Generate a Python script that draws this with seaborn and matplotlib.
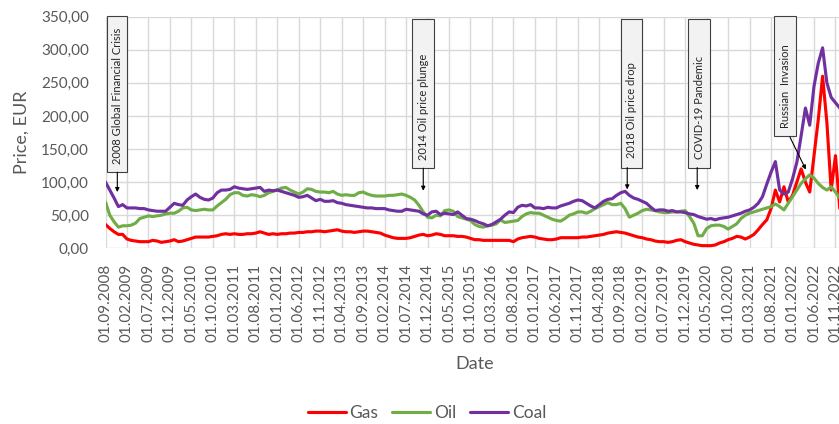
import numpy as np
import pandas as pd
import matplotlib
matplotlib.use("Agg")
import matplotlib.pyplot as plt
from matplotlib.patches import Rectangle
import seaborn as sns

# ---------------- data (monthly, starting 01.09.2008) ----------------
gas = [36, 30, 25, 21, 21, 14, 12, 11, 10, 10,
       10, 12, 11, 9, 10, 11, 13, 10, 11, 13,
       15, 17, 17, 17, 17, 18, 19, 21, 22, 21,
       22, 21, 21, 22, 22, 23, 25, 23, 21, 22,
       21, 22, 22, 23, 23, 24, 24, 25, 25, 26,
       26, 25, 26, 27, 28, 26, 25, 25, 24, 25,
       26, 26, 25, 24, 23, 20, 18, 16, 15, 15,
       15, 16, 18, 20, 21, 19, 20, 22, 21, 19,
       19, 19, 18, 18, 17, 15, 13, 13, 12, 12,
       12, 12, 12, 12, 12, 10, 14, 16, 17, 18,
       17, 15, 14, 13, 13, 14, 16, 16, 16, 16,
       16, 17, 17, 18, 19, 20, 21, 23, 24, 25,
       24, 23, 21, 19, 17, 16, 14, 13, 11, 10,
       10, 9, 10, 12, 13, 10, 8, 6, 5, 4,
       4, 4, 5, 8, 10, 13, 15, 18, 17, 14,
       17, 21, 28, 36, 43, 60, 88, 70, 93, 70,
       80, 100, 120, 100, 85, 140, 195, 260, 190, 88,
       140, 60, 60]

oil = [70, 50, 40, 32, 34, 34, 35, 38, 45, 47,
       49, 48, 49, 50, 52, 53, 53, 56, 61, 62,
       58, 57, 58, 59, 58, 58, 64, 69, 74, 81,
       84, 84, 80, 79, 81, 80, 78, 80, 84, 86,
       88, 91, 92, 88, 85, 82, 85, 90, 89, 86,
       85, 85, 84, 86, 82, 80, 81, 80, 80, 84,
       85, 82, 80, 79, 79, 79, 80, 80, 81, 82,
       80, 77, 73, 65, 55, 47, 46, 50, 49, 57,
       58, 56, 48, 46, 44, 42, 36, 33, 32, 34,
       35, 37, 43, 39, 40, 41, 42, 48, 52, 54,
       53, 53, 50, 47, 44, 42, 41, 45, 50, 52,
       55, 55, 53, 56, 60, 63, 66, 69, 66, 66,
       68, 60, 47, 50, 53, 57, 59, 58, 57, 55,
       54, 54, 55, 55, 56, 57, 48, 38, 19, 19,
       30, 34, 35, 35, 33, 29, 33, 37, 45, 50,
       53, 55, 57, 59, 61, 63, 67, 63, 58, 68,
       78, 88, 98, 105, 111, 106, 98, 92, 88, 93,
       85, 76, 73]

coal = [100, 88, 76, 63, 66, 61, 61, 61, 60, 60,
        58, 57, 56, 56, 56, 62, 68, 66, 65, 73,
        78, 82, 77, 74, 73, 76, 84, 88, 88, 89,
        93, 91, 90, 89, 90, 91, 92, 86, 88, 87,
        88, 86, 84, 82, 80, 77, 78, 80, 76, 72,
        74, 71, 71, 72, 69, 68, 66, 65, 64, 63,
        62, 61, 61, 60, 60, 60, 58, 57, 56, 56,
        59, 58, 57, 56, 52, 50, 55, 56, 51, 53,
        52, 51, 55, 50, 45, 44, 42, 39, 37, 34,
        36, 40, 44, 50, 55, 54, 62, 65, 64, 66,
        61, 61, 60, 62, 61, 61, 64, 66, 68, 71,
        73, 72, 68, 64, 61, 66, 71, 74, 75, 80,
        84, 86, 80, 76, 74, 71, 68, 62, 57, 58,
        58, 56, 57, 55, 55, 54, 52, 51, 48, 46,
        44, 45, 43, 45, 46, 47, 49, 51, 53, 56,
        58, 62, 68, 78, 97, 115, 131, 88, 82, 85,
        105, 130, 170, 212, 186, 245, 280, 303, 250, 228,
        220, 212, 195]

tick_labels = ["01.09.2008", "01.02.2009", "01.07.2009", "01.12.2009", "01.05.2010",
               "01.10.2010", "01.03.2011", "01.08.2011", "01.01.2012", "01.06.2012",
               "01.11.2012", "01.04.2013", "01.09.2013", "01.02.2014", "01.07.2014",
               "01.12.2014", "01.05.2015", "01.10.2015", "01.03.2016", "01.08.2016",
               "01.01.2017", "01.06.2017", "01.11.2017", "01.04.2018", "01.09.2018",
               "01.02.2019", "01.07.2019", "01.12.2019", "01.05.2020", "01.10.2020",
               "01.03.2021", "01.08.2021", "01.01.2022", "01.06.2022", "01.11.2022"]

y_ticks = [0, 50, 100, 150, 200, 250, 300, 350]

event_labels = ["2008 Global Financial Crisis", "2014 Oil price plunge",
                "2018 Oil price drop", "COVID-19 Pandemic", "Russian  Invasion"]

# layout of event callouts (month-index / value coordinates)
# box_left, box_right, box_bottom, box_top, text_bottom, arrow_start(x,y), arrow_tip(x,y)
event_layout = [
    (0.28, 5.08, 115, 351, 128, (2.75, 115), (2.75, 85)),
    (71.45, 76.5, 121, 346, 133, (74.0, 121), (74.0, 87)),
    (120.0, 124.9, 122, 346, 136, (121.5, 122), (121.5, 89)),
    (135.7, 140.8, 122, 346, 135, (137.8, 122), (137.8, 88)),
    (155.75, 160.8, 169, 351, 182, (159.4, 168), (163.1, 119)),
]

colors = {"Gas": "#FF0000", "Oil": "#70AD47", "Coal": "#7030A0"}

df = pd.DataFrame({"idx": np.arange(len(gas)), "Gas": gas, "Oil": oil, "Coal": coal})
long_df = df.melt(id_vars="idx", var_name="Series", value_name="Price")

sns.set_theme(style="white")
plt.rcParams["font.family"] = ["Lato", "DejaVu Sans"]

text_gray = "#595959"

fig = plt.figure(figsize=(8.39, 4.24), dpi=100)
n = len(gas)
px_per_month = 4.294
ax_w = (n - 1) * px_per_month / 839
ax = fig.add_axes([105.5 / 839, (424 - 248.3) / 424, ax_w, 231.6 / 424])

sns.lineplot(data=long_df, x="idx", y="Price", hue="Series", palette=colors,
             linewidth=2.25, ax=ax, legend=True)

ax.set_xlim(0, n - 1)
ax.set_ylim(0, 350)
ax.set_yticks(y_ticks)
ax.set_yticklabels([f"{v:.2f}".replace(".", ",") for v in y_ticks])
ax.set_xticks(np.arange(len(tick_labels)) * 5)
ax.set_xticklabels(tick_labels, rotation=90)
ax.grid(True, color="#D9D9D9", linewidth=1.0)
ax.set_axisbelow(True)
for s in ax.spines.values():
    s.set_visible(False)
ax.tick_params(axis="both", length=0, labelsize=11, colors=text_gray)
ax.tick_params(axis="y", pad=12)
ax.tick_params(axis="x", pad=11)

ax.set_ylabel("Price, EUR", fontsize=13, color=text_gray)
ax.yaxis.set_label_coords(-0.103, 0.5)
ax.set_xlabel("Date", fontsize=13, color=text_gray)
ax.xaxis.set_label_coords(0.5, -0.465)

# callouts
for label, (bl, br, bb, bt, tb, a0, a1) in zip(event_labels, event_layout):
    ax.add_patch(Rectangle((bl, bb), br - bl, bt - bb, facecolor="#F2F2F2",
                           edgecolor="#404040", linewidth=0.8, clip_on=False, zorder=5))
    ax.text((bl + br) / 2, tb, label, rotation=90, ha="center", va="bottom",
            fontsize=8, color="#262626", zorder=6, clip_on=False)
    ax.annotate("", xy=a1, xytext=a0,
                arrowprops=dict(arrowstyle="-|>", color="black", lw=0.8,
                                mutation_scale=6, shrinkA=0, shrinkB=0),
                zorder=6, annotation_clip=False)

handles, labels = ax.get_legend_handles_labels()
ax.get_legend().remove()
fig.legend(handles, labels, loc="center", bbox_to_anchor=(427 / 839, 1 - 413 / 424),
           ncol=3, frameon=False, fontsize=12.5, handlelength=2.2, handletextpad=0.2,
           columnspacing=0.8, labelcolor=text_gray)

fig.savefig("out.png", dpi=100)
